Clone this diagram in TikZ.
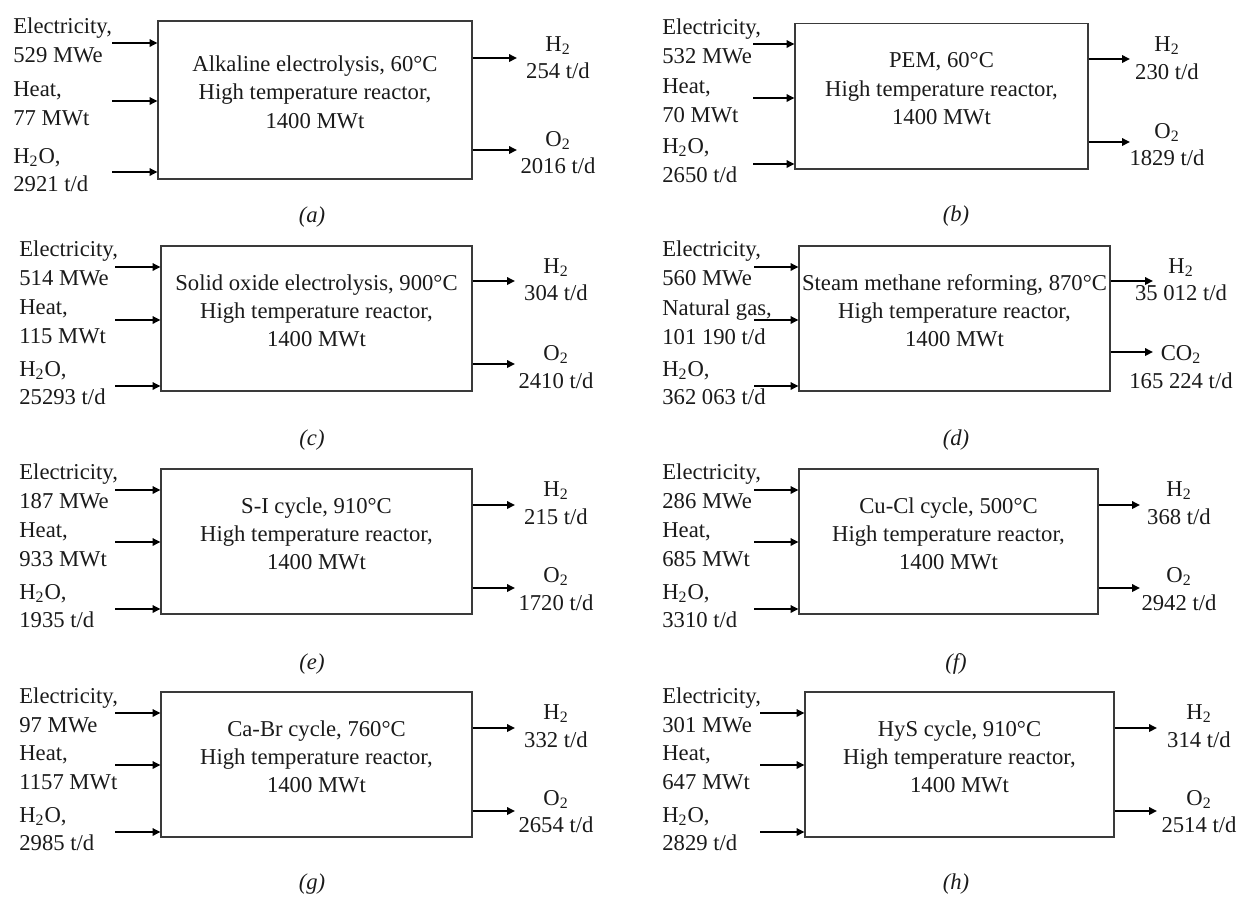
\documentclass[tikz,border=0pt]{standalone}
\usepackage{fontspec}
\setmainfont{Liberation Serif}
\usetikzlibrary{arrows.meta,fit}
\definecolor{ProcLine}{HTML}{3A3A3A}
\definecolor{ProcText}{HTML}{1A1A1A}

\begin{document}
\begin{tikzpicture}[x=0.02cm,y=-0.02cm,
    procbox/.style={draw=ProcLine, line width=0.6pt, inner sep=0pt, align=center, text=ProcText,
      font=\fontsize{12.9pt}{16.1pt}\selectfont},
    flow/.style={line width=1.1pt, -{Triangle[length=4.5pt,width=4.2pt]}},
    inlabel/.style={anchor=west, align=left, inner sep=0pt, text=ProcText,
      font=\fontsize{12.9pt}{16.3pt}\selectfont},
    outlabel/.style={align=center, inner sep=0pt, text=ProcText,
      font=\fontsize{12.9pt}{15.6pt}\selectfont},
    panelcap/.style={inner sep=0pt, text=ProcText, font=\fontsize{12.9pt}{15pt}\selectfont\itshape}]
  \useasboundingbox (0,0) rectangle (1238,897);

  % (a) alkaline
  \node[procbox, fit={(158,21) (472,179)}] (abox) {Alkaline electrolysis, 60°C\\High temperature reactor,\\1400 MWt};
  \foreach \yy/\lbl/\ly [count=\i] in {43/{Electricity,\\529 MWe}/40, 101/{Heat,\\77 MWt}/104, 172/{H\textsubscript{2}O,\\2921 t/d}/170} {
    \coordinate (ain\i) at (112,\yy);
    \draw[flow] (ain\i) -- (ain\i -| abox.west);
    \node[inlabel] (ainlbl\i) at (13,\ly) {\lbl};
  }
  \foreach \yy/\lbl/\ly [count=\i] in {58/{H\textsubscript{2}\\254 t/d}/57.5, 150/{O\textsubscript{2}\\2016 t/d}/152.5} {
    \coordinate (aout\i) at (517,\yy);
    \draw[flow] (aout\i -| abox.east) -- (aout\i);
    \node[outlabel] (aoutlbl\i) at (558,\ly) {\lbl};
  }
  \node[panelcap] (acap) at (312,217) {(a)};

  % (b) PEM
  \node[procbox, fit={(795,23.5) (1088,169)}] (bbox) {PEM, 60°C\\High temperature reactor,\\1400 MWt};
  \foreach \yy/\lbl/\ly [count=\i] in {44/{Electricity,\\532 MWe}/41.5, 98/{Heat,\\70 MWt}/100.5, 164/{H\textsubscript{2}O,\\2650 t/d}/160.5} {
    \coordinate (bin\i) at (753,\yy);
    \draw[flow] (bin\i) -- (bin\i -| bbox.west);
    \node[inlabel] (binlbl\i) at (662,\ly) {\lbl};
  }
  \foreach \yy/\lbl/\ly [count=\i] in {59/{H\textsubscript{2}\\230 t/d}/58, 142/{O\textsubscript{2}\\1829 t/d}/144.5} {
    \coordinate (bout\i) at (1130,\yy);
    \draw[flow] (bout\i -| bbox.east) -- (bout\i);
    \node[outlabel] (boutlbl\i) at (1167,\ly) {\lbl};
  }
  \node[panelcap] (bcap) at (956,216) {(b)};

  % (c) solid oxide
  \node[procbox, fit={(161,246) (472,391)}] (cbox) {Solid oxide electrolysis, 900°C\\High temperature reactor,\\1400 MWt};
  \foreach \yy/\lbl/\ly [count=\i] in {267/{Electricity,\\514 MWe}/263, 320/{Heat,\\115 MWt}/322, 386/{H\textsubscript{2}O,\\25293 t/d}/383} {
    \coordinate (cin\i) at (115,\yy);
    \draw[flow] (cin\i) -- (cin\i -| cbox.west);
    \node[inlabel] (cinlbl\i) at (19,\ly) {\lbl};
  }
  \foreach \yy/\lbl/\ly [count=\i] in {281/{H\textsubscript{2}\\304 t/d}/279.5, 364/{O\textsubscript{2}\\2410 t/d}/367} {
    \coordinate (cout\i) at (515,\yy);
    \draw[flow] (cout\i -| cbox.east) -- (cout\i);
    \node[outlabel] (coutlbl\i) at (556,\ly) {\lbl};
  }
  \node[panelcap] (ccap) at (312,440) {(c)};

  % (d) steam methane reforming
  \node[procbox, fit={(799,246) (1110,391)}] (dbox) {Steam methane reforming, 870°C\\High temperature reactor,\\1400 MWt};
  \foreach \yy/\lbl/\ly [count=\i] in {267/{Electricity,\\560 MWe}/263, 320/{Natural gas,\\101 190 t/d}/322, 386/{H\textsubscript{2}O,\\362 063 t/d}/383} {
    \coordinate (din\i) at (754,\yy);
    \draw[flow] (din\i) -- (din\i -| dbox.west);
    \node[inlabel] (dinlbl\i) at (662,\ly) {\lbl};
  }
  \foreach \yy/\lbl/\ly [count=\i] in {281/{H\textsubscript{2}\\35 012 t/d}/279.5, 352/{CO\textsubscript{2}\\165 224 t/d}/367} {
    \coordinate (dout\i) at (1153,\yy);
    \draw[flow] (dout\i -| dbox.east) -- (dout\i);
    \node[outlabel] (doutlbl\i) at (1181,\ly) {\lbl};
  }
  \node[panelcap] (dcap) at (956,440) {(d)};

  % (e) S-I
  \node[procbox, fit={(161,469) (472,614)}] (ebox) {S-I cycle, 910°C\\High temperature reactor,\\1400 MWt};
  \foreach \yy/\lbl/\ly [count=\i] in {490/{Electricity,\\187 MWe}/486.5, 542/{Heat,\\933 MWt}/545, 609/{H\textsubscript{2}O,\\1935 t/d}/606} {
    \coordinate (ein\i) at (115,\yy);
    \draw[flow] (ein\i) -- (ein\i -| ebox.west);
    \node[inlabel] (einlbl\i) at (19,\ly) {\lbl};
  }
  \foreach \yy/\lbl/\ly [count=\i] in {505/{H\textsubscript{2}\\215 t/d}/503, 588/{O\textsubscript{2}\\1720 t/d}/589} {
    \coordinate (eout\i) at (515,\yy);
    \draw[flow] (eout\i -| ebox.east) -- (eout\i);
    \node[outlabel] (eoutlbl\i) at (556,\ly) {\lbl};
  }
  \node[panelcap] (ecap) at (312,664) {(e)};

  % (f) Cu-Cl
  \node[procbox, fit={(799,469) (1098,614)}] (fbox) {Cu-Cl cycle, 500°C\\High temperature reactor,\\1400 MWt};
  \foreach \yy/\lbl/\ly [count=\i] in {490/{Electricity,\\286 MWe}/486.5, 542/{Heat,\\685 MWt}/545, 609/{H\textsubscript{2}O,\\3310 t/d}/606} {
    \coordinate (fin\i) at (754,\yy);
    \draw[flow] (fin\i) -- (fin\i -| fbox.west);
    \node[inlabel] (finlbl\i) at (662,\ly) {\lbl};
  }
  \foreach \yy/\lbl/\ly [count=\i] in {505/{H\textsubscript{2}\\368 t/d}/503, 588/{O\textsubscript{2}\\2942 t/d}/589} {
    \coordinate (fout\i) at (1140,\yy);
    \draw[flow] (fout\i -| fbox.east) -- (fout\i);
    \node[outlabel] (foutlbl\i) at (1179,\ly) {\lbl};
  }
  \node[panelcap] (fcap) at (956,664) {(f)};

  % (g) Ca-Br
  \node[procbox, fit={(161,692) (472,837)}] (gbox) {Ca-Br cycle, 760°C\\High temperature reactor,\\1400 MWt};
  \foreach \yy/\lbl/\ly [count=\i] in {713/{Electricity,\\97 MWe}/710, 765/{Heat,\\1157 MWt}/768, 832/{H\textsubscript{2}O,\\2985 t/d}/829} {
    \coordinate (gin\i) at (115,\yy);
    \draw[flow] (gin\i) -- (gin\i -| gbox.west);
    \node[inlabel] (ginlbl\i) at (19,\ly) {\lbl};
  }
  \foreach \yy/\lbl/\ly [count=\i] in {728/{H\textsubscript{2}\\332 t/d}/726, 811/{O\textsubscript{2}\\2654 t/d}/811.5} {
    \coordinate (gout\i) at (515,\yy);
    \draw[flow] (gout\i -| gbox.east) -- (gout\i);
    \node[outlabel] (goutlbl\i) at (556,\ly) {\lbl};
  }
  \node[panelcap] (gcap) at (312,884) {(g)};

  % (h) HyS
  \node[procbox, fit={(805,692) (1114,837)}] (hbox) {HyS cycle, 910°C\\High temperature reactor,\\1400 MWt};
  \foreach \yy/\lbl/\ly [count=\i] in {713/{Electricity,\\301 MWe}/710, 765/{Heat,\\647 MWt}/768, 832/{H\textsubscript{2}O,\\2829 t/d}/829} {
    \coordinate (hin\i) at (760,\yy);
    \draw[flow] (hin\i) -- (hin\i -| hbox.west);
    \node[inlabel] (hinlbl\i) at (662,\ly) {\lbl};
  }
  \foreach \yy/\lbl/\ly [count=\i] in {728/{H\textsubscript{2}\\314 t/d}/726, 811/{O\textsubscript{2}\\2514 t/d}/811.5} {
    \coordinate (hout\i) at (1157,\yy);
    \draw[flow] (hout\i -| hbox.east) -- (hout\i);
    \node[outlabel] (houtlbl\i) at (1199,\ly) {\lbl};
  }
  \node[panelcap] (hcap) at (956,884) {(h)};
\end{tikzpicture}
\end{document}
